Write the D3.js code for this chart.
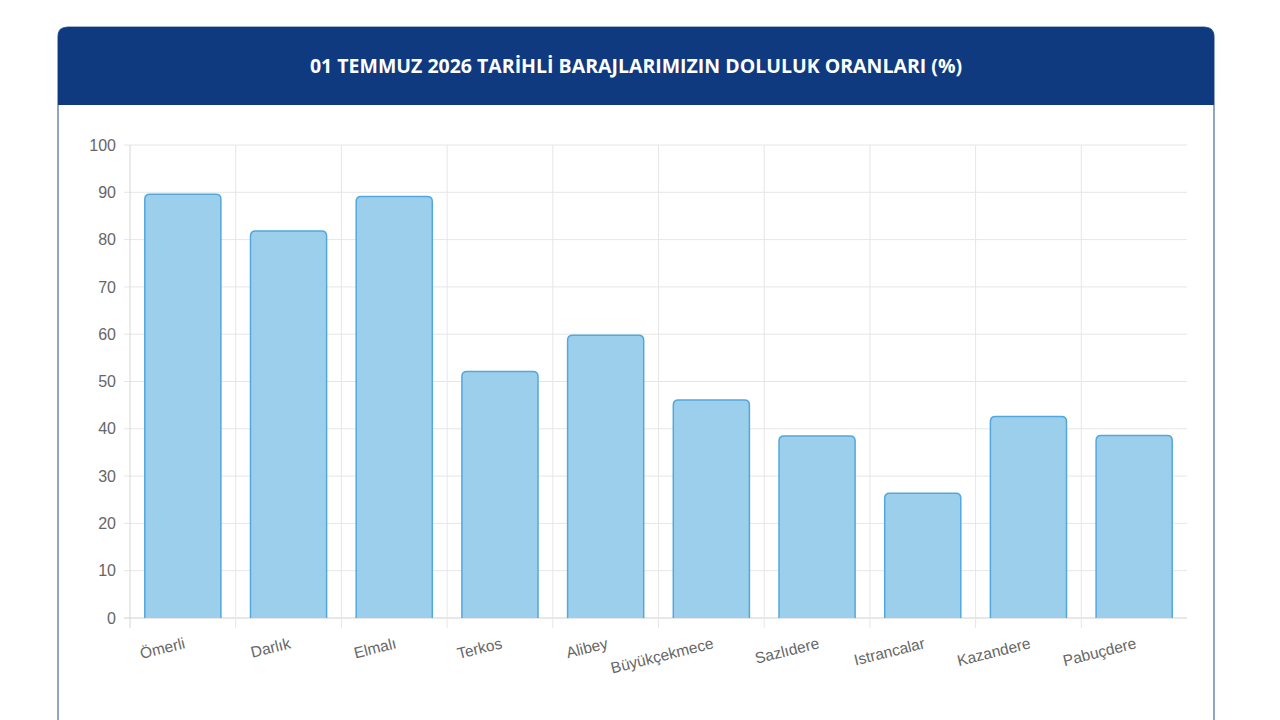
<!DOCTYPE html>
<html>
<head>
    <meta charset="utf-8">
    <title>Baraj Doluluk Oranları</title>
    <script src="https://d3js.org/d3.v7.min.js"></script>
    <style>
        html, body { margin: 0; padding: 0; background: #fff; }
        svg { display: block; }
    </style>
</head>
<body>
    <svg id="chart"></svg>
    <script>
        // dam names and fill rates (%)
        const dams = ["Ömerli", "Darlık", "Elmalı", "Terkos", "Alibey", "Büyükçekmece",
            "Sazlıdere", "Istrancalar", "Kazandere", "Pabuçdere"];
        const fillRates = [89.6, 81.8, 89.1, 52.1, 59.8, 46.1, 38.5, 26.4, 42.6, 38.6];
        const yTicks = [0, 10, 20, 30, 40, 50, 60, 70, 80, 90, 100];
        const title = "01 TEMMUZ 2026 TARİHLİ BARAJLARIMIZIN DOLULUK ORANLARI (%)";

        const W = 1280, H = 720;
        const svg = d3.select('#chart').attr('width', W).attr('height', H);

        // card with dark blue header
        const card = { x: 58, y: 27, w: 1156, headH: 78, r: 10 };
        svg.append('path')
            .attr('d', `M${card.x},${H + 5} L${card.x},${card.y + card.r} Q${card.x},${card.y} ${card.x + card.r},${card.y}
                L${card.x + card.w - card.r},${card.y} Q${card.x + card.w},${card.y} ${card.x + card.w},${card.y + card.r}
                L${card.x + card.w},${H + 5}`)
            .attr('fill', '#fff')
            .attr('stroke', '#4a6aa0')
            .attr('stroke-width', 1.2);
        svg.append('path')
            .attr('d', `M${card.x},${card.y + card.headH} L${card.x},${card.y + card.r} Q${card.x},${card.y} ${card.x + card.r},${card.y}
                L${card.x + card.w - card.r},${card.y} Q${card.x + card.w},${card.y} ${card.x + card.w},${card.y + card.r}
                L${card.x + card.w},${card.y + card.headH} Z`)
            .attr('fill', '#0f3a80');
        svg.append('text')
            .attr('x', card.x + card.w / 2)
            .attr('y', card.y + card.headH / 2 + 7)
            .attr('text-anchor', 'middle')
            .attr('fill', '#fff')
            .attr('font-family', '"Open Sans", sans-serif')
            .attr('font-weight', 700)
            .attr('font-size', 19.5)
            .text(title);

        // plot area
        const plotL = 130, plotR = 1187, plotT = 145, plotB = 618;
        const x = d3.scaleBand().domain(dams).range([plotL, plotR]).paddingInner(0).paddingOuter(0);
        const y = d3.scaleLinear().domain([0, 100]).range([plotB, plotT]);

        const grid = svg.append('g');
        // horizontal grid lines with small ticks to the left
        grid.selectAll('.hg').data(yTicks).join('line')
            .attr('x1', plotL - 6).attr('x2', plotR)
            .attr('y1', d => y(d)).attr('y2', d => y(d))
            .attr('stroke', d => d === 0 ? '#d0d0d0' : '#e6e6e6')
            .attr('stroke-width', 1);
        // vertical grid lines between categories
        const bounds = dams.map(d => x(d));
        grid.selectAll('.vg').data(bounds).join('line')
            .attr('x1', d => d).attr('x2', d => d)
            .attr('y1', plotT).attr('y2', plotB + 10)
            .attr('stroke', (d, i) => i === 0 ? '#d6d6d6' : '#e6e6e6')
            .attr('stroke-width', 1);

        // y axis labels
        const yAxis = d3.axisLeft(y).tickValues(yTicks).tickSize(0).tickPadding(14);
        svg.append('g')
            .attr('transform', `translate(${plotL},0)`)
            .call(yAxis)
            .call(g => g.select('.domain').remove())
            .call(g => g.selectAll('text')
                .attr('fill', '#666')
                .attr('font-family', '"Liberation Sans", Arial, sans-serif')
                .attr('font-size', 16));

        // bars with rounded top corners
        const bw = x.bandwidth() * 0.72;
        const r = 5;
        function barPath(d, i) {
            const x0 = x(dams[i]) + (x.bandwidth() - bw) / 2, x1 = x0 + bw;
            const y0 = y(d), y1 = y(0);
            return `M${x0},${y1} L${x0},${y0 + r} Q${x0},${y0} ${x0 + r},${y0} L${x1 - r},${y0} Q${x1},${y0} ${x1},${y0 + r} L${x1},${y1}`;
        }
        svg.append('g').selectAll('path').data(fillRates).join('path')
            .attr('d', barPath)
            .attr('fill', '#9ccfec')
            .attr('stroke', '#52a8dc')
            .attr('stroke-width', 1.5);

        // x axis labels, rotated
        svg.append('g').selectAll('text').data(dams).join('text')
            .attr('transform', d => `translate(${x(d) + x.bandwidth() / 2 + 3},${plotB + 30}) rotate(-14)`)
            .attr('text-anchor', 'end')
            .attr('fill', '#666')
            .attr('font-family', '"Liberation Sans", Arial, sans-serif')
            .attr('font-size', 15.5)
            .text(d => d);
    </script>
</body>
</html>
